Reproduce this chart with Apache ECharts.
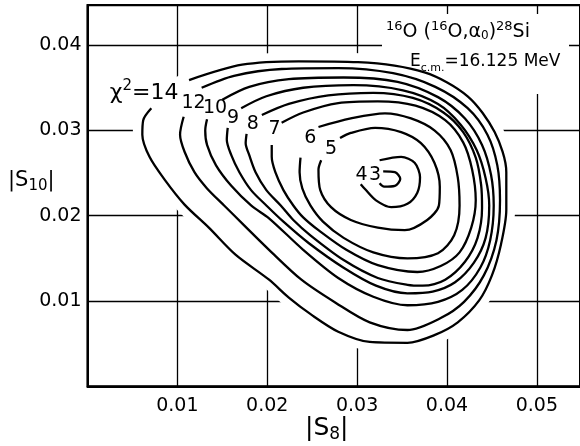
<!DOCTYPE html>
<html>
<head>
<meta charset="utf-8">
<script src="https://cdn.jsdelivr.net/npm/echarts@6/dist/echarts.min.js"></script>
<style>
  html, body { margin: 0; padding: 0; background: #fff; }
  #chart { width: 580px; height: 446px; }
</style>
</head>
<body>
<div id="chart"></div>
<script>
// axis ticks
const xTickValues = [0.01, 0.02, 0.03, 0.04, 0.05];
const xTickLabels = ["0.01", "0.02", "0.03", "0.04", "0.05"];
const yTickValues = [0.01, 0.02, 0.03, 0.04];
const yTickLabels = ["0.01", "0.02", "0.03", "0.04"];

const chi14 = [[0.0113,0.0359],[0.0172,0.0377],[0.0235,0.0381],[0.0301,0.0380],[0.0375,0.0368],[0.0423,0.0340],[0.0453,0.0298],[0.0466,0.0251],[0.0466,0.0207],[0.0460,0.0166],[0.0450,0.0130],[0.0436,0.0101],[0.0412,0.0075],[0.0386,0.0060],[0.0356,0.0051],[0.0314,0.0052],[0.0279,0.0064],[0.0249,0.0084],[0.0224,0.0104],[0.0202,0.0125],[0.0165,0.0154],[0.0135,0.0186],[0.0108,0.0213],[0.0086,0.0242],[0.0069,0.0269],[0.0061,0.0295],[0.0062,0.0312],[0.0071,0.0326]];
const chi12 = [[0.0127,0.0350],[0.0163,0.0364],[0.0216,0.0372],[0.0279,0.0373],[0.0340,0.0367],[0.0387,0.0351],[0.0423,0.0326],[0.0445,0.0295],[0.0456,0.0259],[0.0459,0.0218],[0.0455,0.0171],[0.0441,0.0130],[0.0419,0.0099],[0.0393,0.0080],[0.0356,0.0066],[0.0314,0.0075],[0.0276,0.0098],[0.0238,0.0125],[0.0202,0.0160],[0.0174,0.0189],[0.0152,0.0212],[0.0133,0.0232],[0.0119,0.0251],[0.0108,0.0275],[0.0103,0.0295],[0.0107,0.0316]];
const chi10 = [[0.0150,0.0336],[0.0180,0.0351],[0.0224,0.0360],[0.0285,0.0362],[0.0345,0.0357],[0.0390,0.0339],[0.0420,0.0314],[0.0439,0.0283],[0.0449,0.0248],[0.0452,0.0212],[0.0448,0.0171],[0.0437,0.0139],[0.0417,0.0113],[0.0390,0.0099],[0.0356,0.0095],[0.0318,0.0105],[0.0279,0.0127],[0.0240,0.0160],[0.0202,0.0197],[0.0182,0.0212],[0.0160,0.0235],[0.0143,0.0259],[0.0133,0.0283],[0.0131,0.0300],[0.0133,0.0313]];
const chi9 = [[0.0171,0.0326],[0.0199,0.0340],[0.0240,0.0350],[0.0296,0.0353],[0.0351,0.0347],[0.0390,0.0331],[0.0415,0.0307],[0.0433,0.0277],[0.0443,0.0244],[0.0447,0.0212],[0.0443,0.0174],[0.0430,0.0145],[0.0409,0.0122],[0.0384,0.0111],[0.0356,0.0109],[0.0321,0.0118],[0.0285,0.0139],[0.0246,0.0168],[0.0218,0.0193],[0.0199,0.0212],[0.0182,0.0230],[0.0169,0.0251],[0.0160,0.0271],[0.0155,0.0289],[0.0156,0.0303]];
const chi8 = [[0.0194,0.0318],[0.0224,0.0331],[0.0268,0.0341],[0.0318,0.0344],[0.0362,0.0338],[0.0396,0.0321],[0.0418,0.0298],[0.0432,0.0268],[0.0438,0.0236],[0.0439,0.0209],[0.0434,0.0174],[0.0420,0.0146],[0.0398,0.0125],[0.0373,0.0118],[0.0356,0.0119],[0.0323,0.0127],[0.0285,0.0148],[0.0248,0.0177],[0.0229,0.0195],[0.0215,0.0212],[0.0199,0.0230],[0.0187,0.0251],[0.0180,0.0271],[0.0176,0.0285],[0.0177,0.0296]];
const chi7 = [[0.0216,0.0309],[0.0240,0.0321],[0.0279,0.0332],[0.0323,0.0334],[0.0365,0.0329],[0.0398,0.0312],[0.0418,0.0286],[0.0428,0.0254],[0.0432,0.0218],[0.0427,0.0186],[0.0414,0.0157],[0.0393,0.0141],[0.0367,0.0134],[0.0323,0.0142],[0.0288,0.0160],[0.0257,0.0183],[0.0240,0.0198],[0.0229,0.0212],[0.0218,0.0230],[0.0209,0.0251],[0.0205,0.0269],[0.0205,0.0283]];
const chi6 = [[0.0257,0.0304],[0.0293,0.0314],[0.0331,0.0320],[0.0360,0.0314],[0.0386,0.0300],[0.0404,0.0277],[0.0412,0.0245],[0.0414,0.0212],[0.0408,0.0177],[0.0390,0.0156],[0.0356,0.0150],[0.0318,0.0157],[0.0285,0.0174],[0.0262,0.0193],[0.0248,0.0212],[0.0239,0.0232],[0.0236,0.0251],[0.0237,0.0268]];
const chi5 = [[0.0281,0.0291],[0.0293,0.0297],[0.0320,0.0303],[0.0349,0.0298],[0.0371,0.0285],[0.0386,0.0262],[0.0392,0.0234],[0.0391,0.0212],[0.0378,0.0195],[0.0353,0.0183],[0.0323,0.0186],[0.0293,0.0195],[0.0271,0.0210],[0.0259,0.0230],[0.0257,0.0254],[0.0260,0.0265]];
const chi4 = [[0.0325,0.0265],[0.0349,0.0269],[0.0364,0.0262],[0.0370,0.0245],[0.0367,0.0227],[0.0356,0.0214],[0.0338,0.0210],[0.0321,0.0218],[0.0309,0.0231],[0.0304,0.0237]];
const chi3 = [[0.0329,0.0252],[0.0342,0.0251],[0.0348,0.0243],[0.0342,0.0235],[0.0330,0.0234],[0.0325,0.0238]];

// contour level labels
const levelNames = ["12", "10", "9", "8", "7", "6", "5", "4", "3"];
const levelX = [0.0118, 0.0142, 0.0162, 0.0184, 0.0208, 0.0248, 0.0271, 0.0305, 0.0320];
const levelY = [0.0332, 0.0326, 0.0314, 0.0307, 0.0302, 0.0291, 0.0278, 0.0248, 0.0248];
const outerLabelPos = [0.0063, 0.0346];

const FONT = '"DejaVu Sans", sans-serif';

const chart = echarts.init(document.getElementById("chart"));

const tickFormatter = (values, labels) => (v) => {
  const i = values.findIndex((t) => Math.abs(t - v) < 1e-9);
  return i >= 0 ? labels[i] : "";
};

const contours = [chi14, chi12, chi10, chi9, chi8, chi7, chi6, chi5, chi4, chi3];

const options = {
  animation: false,
  backgroundColor: "#fff",
  grid: {
    left: 87.5,
    top: 5,
    width: 496,
    bottom: 59.7,
    show: true,
    borderColor: "#000",
    borderWidth: 2,
    backgroundColor: "transparent",
  },
  xAxis: {
    type: "value",
    min: 0,
    max: 0.0548,
    interval: 0.01,
    axisLine: { show: true, lineStyle: { color: "#000", width: 2 } },
    axisTick: { show: false },
    splitLine: { show: true, lineStyle: { color: "#000", width: 1.3 } },
    axisLabel: {
      formatter: tickFormatter(xTickValues, xTickLabels),
      color: "#000",
      fontFamily: FONT,
      fontSize: 19,
      margin: 10,
      showMaxLabel: false,
    },
  },
  yAxis: {
    type: "value",
    min: 0,
    max: 0.0447,
    interval: 0.01,
    axisLine: { show: true, lineStyle: { color: "#000", width: 2 } },
    axisTick: { show: false },
    splitLine: { show: true, lineStyle: { color: "#000", width: 1.3 } },
    axisLabel: {
      formatter: tickFormatter(yTickValues, yTickLabels),
      color: "#000",
      fontFamily: FONT,
      fontSize: 19,
      margin: 6,
      showMaxLabel: false,
    },
  },
  series: [
    // white area behind the contours hides the grid there
    {
      type: "custom",
      silent: true,
      z: 1,
      data: [[0, 0]],
      renderItem: (params, api) => {
        const pts = chi14.map((p) => api.coord(p));
        return {
          type: "polygon",
          shape: { points: pts, smooth: 0.3 },
          style: { fill: "#fff", stroke: "#fff", lineWidth: 18, lineJoin: "round" },
        };
      },
    },
    ...contours.map((c) => ({
      type: "line",
      data: c,
      smooth: 0.3,
      showSymbol: false,
      silent: true,
      z: 3,
      lineStyle: { color: "#000", width: 2.3 },
    })),
    {
      type: "scatter",
      symbolSize: 0,
      silent: true,
      z: 4,
      itemStyle: { opacity: 1, color: "#000" },
      data: levelNames.map((n, i) => ({ name: n, value: [levelX[i], levelY[i]] })),
      label: {
        show: true,
        position: "inside",
        formatter: (p) => p.name,
        color: "#000",
        textBorderWidth: 0,
        fontFamily: FONT,
        fontSize: 19,
      },
    },
    {
      type: "scatter",
      symbolSize: 0,
      silent: true,
      z: 4,
      itemStyle: { opacity: 1, color: "#000" },
      data: [{ name: "14", value: outerLabelPos }],
      label: {
        show: true,
        position: "inside",
        formatter: "{a|χ}{s|2}{a|=14}",
        textBorderWidth: 0,
        rich: {
          a: { fontFamily: FONT, fontSize: 22, color: "#000", textBorderWidth: 0, lineHeight: 26, verticalAlign: "bottom" },
          s: { fontFamily: FONT, fontSize: 15, color: "#000", textBorderWidth: 0, lineHeight: 26, verticalAlign: "top" },
        },
      },
    },
  ],
  graphic: [
    // blank box behind the reaction text, under the contours
    {
      type: "rect",
      z: 2,
      shape: { x: 382, y: 14, width: 187, height: 80 },
      style: { fill: "#fff" },
    },
    {
      type: "text",
      z: 100,
      left: 386,
      top: 20,
      style: {
        text: "{s|16}{m|O (}{s|16}{m|O,α}{b|0}{m|)}{s|28}{m|Si}",
        rich: {
          m: { fontFamily: FONT, fontSize: 19, fill: "#000", lineHeight: 22, verticalAlign: "bottom" },
          s: { fontFamily: FONT, fontSize: 13, fill: "#000", lineHeight: 22, verticalAlign: "top" },
          b: { fontFamily: FONT, fontSize: 12, fill: "#000", lineHeight: 18, verticalAlign: "bottom" },
        },
      },
    },
    {
      type: "text",
      z: 100,
      left: 410,
      top: 53,
      style: {
        text: "{m|E}{b|c.m.}{m|=16.125 MeV}",
        rich: {
          m: { fontFamily: FONT, fontSize: 17, fill: "#000", lineHeight: 21, verticalAlign: "top" },
          b: { fontFamily: FONT, fontSize: 11, fill: "#000", lineHeight: 21, verticalAlign: "bottom" },
        },
      },
    },
    {
      type: "text",
      z: 100,
      left: 8,
      top: 170,
      style: {
        text: "{m||S}{b|10}{m||}",
        rich: {
          m: { fontFamily: FONT, fontSize: 21, fill: "#000", lineHeight: 26, verticalAlign: "middle" },
          b: { fontFamily: FONT, fontSize: 15, fill: "#000", lineHeight: 24, verticalAlign: "bottom" },
        },
      },
    },
    {
      type: "text",
      z: 100,
      left: 305,
      top: 416,
      style: {
        text: "{m||S}{b|8}{m||}",
        rich: {
          m: { fontFamily: FONT, fontSize: 25, fill: "#000", lineHeight: 30, verticalAlign: "middle" },
          b: { fontFamily: FONT, fontSize: 17, fill: "#000", lineHeight: 28, verticalAlign: "bottom" },
        },
      },
    },
  ],
};

chart.setOption(options);
</script>
</body>
</html>
